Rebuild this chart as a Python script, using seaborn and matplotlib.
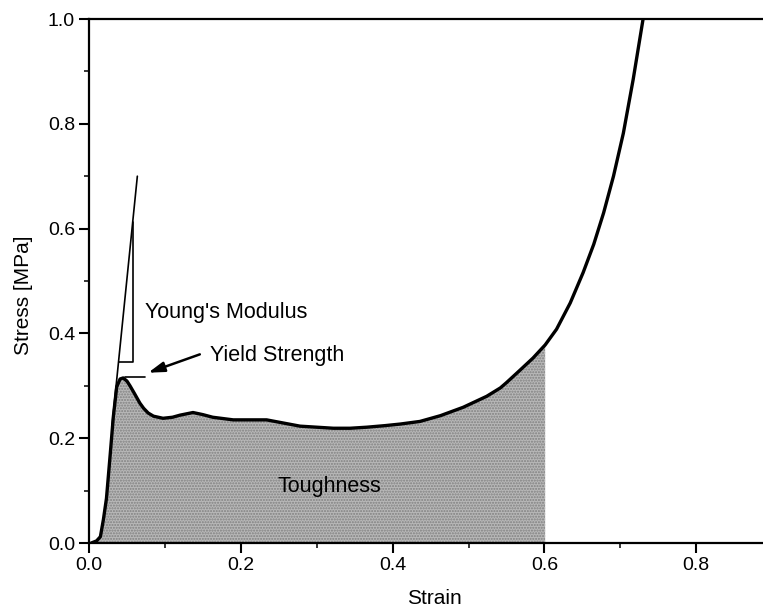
import matplotlib
matplotlib.use("Agg")
import matplotlib.pyplot as plt
from matplotlib.ticker import MultipleLocator
import pandas as pd
import seaborn as sns

# Stress-strain curve of the foam sample
strain = [0.003, 0.010, 0.015, 0.019, 0.023, 0.028, 0.032, 0.0365, 0.041, 0.045,
          0.050, 0.054, 0.060, 0.067, 0.072, 0.078, 0.085, 0.0975, 0.11, 0.12,
          0.137, 0.150, 0.163, 0.19, 0.212, 0.234, 0.256, 0.278, 0.30, 0.322,
          0.344, 0.366, 0.39, 0.41, 0.436, 0.463, 0.493, 0.524, 0.542, 0.550,
          0.568, 0.585, 0.601, 0.616, 0.634, 0.651, 0.665, 0.678, 0.691, 0.704,
          0.717, 0.730]
stress = [0.0, 0.004, 0.012, 0.045, 0.085, 0.17, 0.24, 0.298, 0.313, 0.315,
          0.309, 0.30, 0.285, 0.267, 0.257, 0.248, 0.242, 0.238, 0.240, 0.244,
          0.249, 0.245, 0.240, 0.235, 0.235, 0.235, 0.229, 0.223, 0.221, 0.219,
          0.219, 0.221, 0.224, 0.227, 0.232, 0.243, 0.259, 0.280, 0.296, 0.306,
          0.330, 0.353, 0.378, 0.408, 0.458, 0.516, 0.570, 0.630, 0.700, 0.782,
          0.885, 1.0]

# Integration limit for the toughness area
toughness_limit = 0.601

# Young's modulus construction (tangent line and slope triangle)
tangent_x = [0.0301, 0.0637]
tangent_y = [0.22, 0.70]
triangle_x = [0.0389, 0.0576, 0.0576]
triangle_y = [0.345, 0.345, 0.613]

# Yield point marker
yield_x = [0.048, 0.074]
yield_y = [0.316, 0.316]

x_ticks = [0.0, 0.2, 0.4, 0.6, 0.8]
y_ticks = [0.0, 0.2, 0.4, 0.6, 0.8, 1.0]

df = pd.DataFrame({"Strain": strain, "Stress": stress})

sns.set_theme(style="ticks")
plt.rcParams["font.family"] = ["Liberation Sans", "DejaVu Sans"]
plt.rcParams["text.color"] = "black"
plt.rcParams["axes.labelcolor"] = "black"

fig = plt.figure(figsize=(7.63, 6.16), dpi=100)
ax = fig.add_axes([89 / 763, 73 / 616, 674 / 763, 524 / 616])

# Shaded toughness area under the curve up to the limit strain
area = df[df["Strain"] <= toughness_limit]
ax.fill_between(area["Strain"], 0, area["Stress"], facecolor="#b8b8b8",
                edgecolor="#808080", hatch="......", linewidth=0, zorder=1)

sns.lineplot(data=df, x="Strain", y="Stress", ax=ax, color="black",
             linewidth=2.4, sort=False, zorder=3)

ax.plot(tangent_x, tangent_y, color="black", linewidth=1.2, zorder=4)
ax.plot(triangle_x, triangle_y, color="black", linewidth=1.2, zorder=4)
ax.plot(yield_x, yield_y, color="black", linewidth=1.2, zorder=4)

ax.annotate("", xy=(0.078, 0.325), xytext=(0.146, 0.36),
            arrowprops=dict(arrowstyle="-|>,head_length=0.8,head_width=0.25",
                            color="black", linewidth=1.8, shrinkA=0, shrinkB=0),
            zorder=5)

ax.text(0.074, 0.429, "Young's Modulus", fontsize=15.5, ha="left", va="baseline")
ax.text(0.159, 0.348, "Yield Strength", fontsize=15.5, ha="left", va="baseline")
ax.text(0.249, 0.098, "Toughness", fontsize=15.5, ha="left", va="baseline", zorder=5)

ax.set_xlim(0.0, 0.888)
ax.set_ylim(0.0, 1.0)
ax.set_xticks(x_ticks)
ax.set_yticks(y_ticks)
ax.set_xticklabels([f"{v:.1f}" for v in x_ticks])
ax.set_yticklabels([f"{v:.1f}" for v in y_ticks])
ax.xaxis.set_minor_locator(MultipleLocator(0.1))
ax.yaxis.set_minor_locator(MultipleLocator(0.1))
ax.tick_params(which="major", direction="out", length=7, width=1.5,
               labelsize=14, pad=3, colors="black")
ax.tick_params(which="minor", direction="out", length=3.5, width=1.3)
ax.tick_params(top=False, right=False, which="both")

for side in ["left", "bottom", "top"]:
    ax.spines[side].set_visible(True)
    ax.spines[side].set_linewidth(1.6)
    ax.spines[side].set_color("black")
ax.spines["right"].set_visible(False)

ax.set_xlabel("Strain", fontsize=15)
ax.set_ylabel("Stress [MPa]", fontsize=15)
ax.xaxis.set_label_coords(0.512, -0.088)
ax.yaxis.set_label_coords(-0.083, 0.473)

fig.savefig("out.png", dpi=100)
